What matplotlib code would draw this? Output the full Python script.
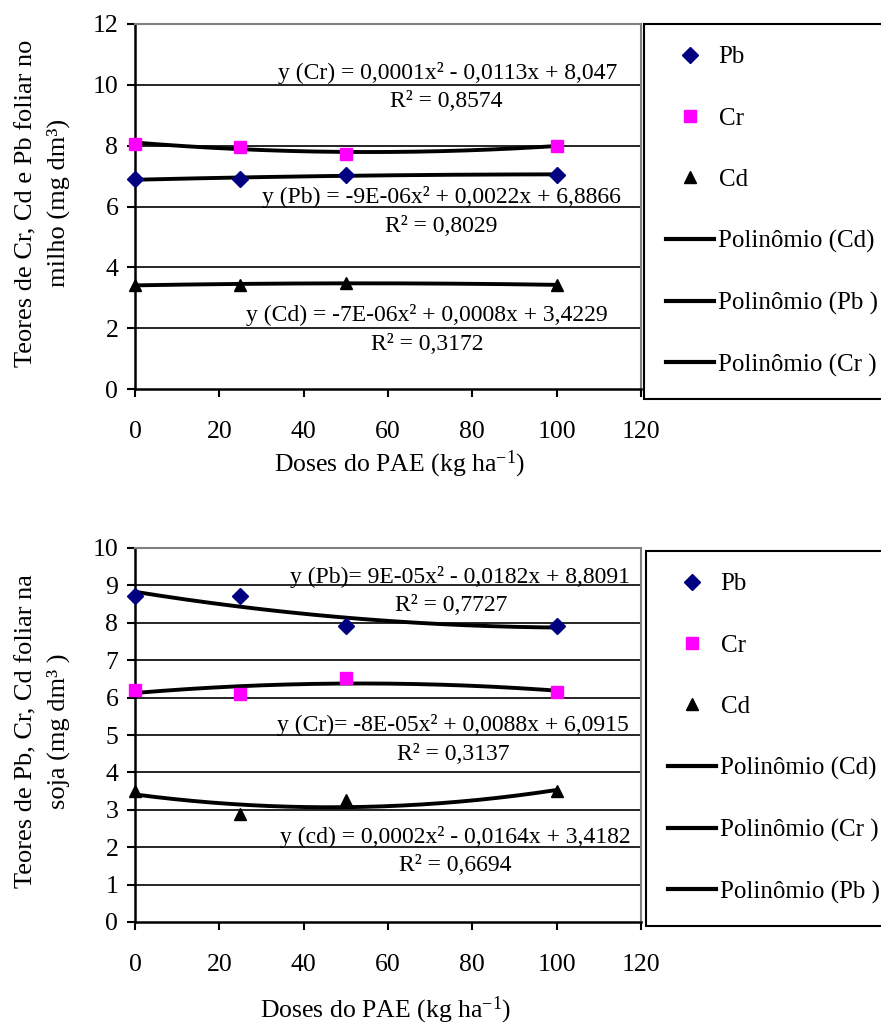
import numpy as np
import matplotlib
matplotlib.use("Agg")
import matplotlib.pyplot as plt
from matplotlib.lines import Line2D

plt.rcParams['font.family'] = ['Liberation Serif', 'DejaVu Serif']
plt.rcParams['mathtext.fontset'] = 'custom'
plt.rcParams['mathtext.rm'] = 'Liberation Serif'
plt.rcParams['mathtext.it'] = 'Liberation Serif:italic'

# doses do PAE (kg/ha)
doses = [0, 25, 50, 100]

# milho
milho_pb = [6.9, 6.9, 7.05, 7.05]
milho_cr = [8.07, 7.97, 7.73, 8.0]
milho_cd = [3.42, 3.42, 3.5, 3.42]

# soja
soja_pb = [8.72, 8.72, 7.92, 7.91]
soja_cr = [6.2, 6.1, 6.53, 6.16]
soja_cd = [3.5, 2.9, 3.25, 3.5]

milho_eq = {
    'Cr': ("y (Cr) = 0,0001x² - 0,0113x + 8,047", "R² = 0,8574", (74.2, 10.4), (73.7, 9.44)),
    'Pb': ("y (Pb) = -9E-06x² + 0,0022x + 6,8866", "R² = 0,8029", (72.7, 6.32), (72.7, 5.33)),
    'Cd': ("y (Cd) = -7E-06x² + 0,0008x + 3,4229", "R² = 0,3172", (69.2, 2.43), (69.4, 1.45)),
}
soja_eq = {
    'Pb': ("y (Pb)= 9E-05x² - 0,0182x + 8,8091", "R² = 0,7727", (77.1, 9.22), (74.9, 8.45)),
    'Cr': ("y (Cr)= -8E-05x² + 0,0088x + 6,0915", "R² = 0,3137", (75.4, 5.27), (75.4, 4.49)),
    'Cd': ("y (cd) = 0,0002x² - 0,0164x + 3,4182", "R² = 0,6694", (75.9, 2.27), (75.9, 1.50)),
}

W, H = 881, 1027
fig = plt.figure(figsize=(W / 100, H / 100), dpi=100)

FS = 18.5
LEGFS = 18
EQFS = 17


def painel(rect, pb, cr, cd, eqs, ymax, ylabel, line_order, leg_anchor, xlab_pos, ylab_pos):
    ax = fig.add_axes(rect)
    ax.set_xlim(0, 120)
    ax.set_ylim(0, ymax)
    step = 2 if ymax == 12 else 1
    ax.set_yticks(np.arange(0, ymax + 0.1, step))
    ax.set_xticks(np.arange(0, 121, 20))
    for v in np.arange(step, ymax, step):
        ax.axhline(v, color='black', lw=1.2, zorder=1)

    for s in ['top', 'right']:
        ax.spines[s].set_color('#808080')
        ax.spines[s].set_linewidth(1.5)
    for s in ['left', 'bottom']:
        ax.spines[s].set_linewidth(1.8)
    ax.tick_params(axis='both', direction='out', length=6, width=1.5, labelsize=FS)
    ax.tick_params(axis='y', pad=6)
    ax.tick_params(axis='x', pad=17)

    xs = np.linspace(0, 100, 200)
    series = {'Pb': pb, 'Cr': cr, 'Cd': cd}
    for nome, ys in series.items():
        coef = np.polyfit(doses, ys, 2)
        ax.plot(xs, np.polyval(coef, xs), color='black', lw=2.8, zorder=3)

    ax.plot(doses, pb, 'D', color='#000080', ms=8, ls='none', zorder=5, clip_on=False)
    ax.plot(doses, cr, 's', color='#FF00FF', ms=8, ls='none', zorder=5, clip_on=False)
    ax.plot(doses, cd, '^', color='black', ms=9, ls='none', zorder=5, clip_on=False)

    for eq, r2, p1, p2 in eqs.values():
        ax.text(p1[0], p1[1], eq, fontsize=EQFS, ha='center', va='center', zorder=6)
        ax.text(p2[0], p2[1], r2, fontsize=EQFS, ha='center', va='center', zorder=6)

    fig.text(ylab_pos[0] / W, 1 - ylab_pos[1] / H, ylabel, fontsize=FS + 0.5, rotation=90,
             ha='center', va='center', linespacing=1.5, multialignment='center')
    fig.text(xlab_pos[0] / W, 1 - xlab_pos[1] / H, 'Doses do PAE (kg ha$^{-1}$)',
             fontsize=FS, ha='center', va='baseline')

    handles = [
        Line2D([], [], marker='D', color='#000080', ms=8, ls='none'),
        Line2D([], [], marker='s', color='#FF00FF', ms=8, ls='none'),
        Line2D([], [], marker='^', color='black', ms=9, ls='none'),
    ] + [Line2D([], [], color='black', lw=3) for _ in line_order]
    labels = ['Pb', 'Cr', 'Cd'] + ['Polinômio (%s)' % n for n in line_order]
    # caixa da legenda passa da borda direita, como no original
    leg = fig.legend(handles, labels, loc='upper left', mode='expand',
                     bbox_to_anchor=(leg_anchor[0], leg_anchor[1] - 0.3, 270 / W, 0.3),
                     bbox_transform=fig.transFigure, fontsize=LEGFS, frameon=True,
                     fancybox=False, edgecolor='black', framealpha=1,
                     borderpad=0.88, labelspacing=1.55, handlelength=1.9,
                     handletextpad=0.2, borderaxespad=0, numpoints=1)
    leg.get_frame().set_linewidth(1.5)
    return ax


painel([135 / W, 1 - 389 / H, 506 / W, 365 / H], milho_pb, milho_cr, milho_cd, milho_eq, 12,
       'Teores de Cr, Cd e Pb foliar no\nmilho (mg dm³)', ['Cd', 'Pb ', 'Cr '],
       (644 / W, 1 - 24 / H), (400, 471), (43, 203))

painel([135 / W, 1 - 922 / H, 506 / W, 374 / H], soja_pb, soja_cr, soja_cd, soja_eq, 10,
       'Teores de Pb, Cr, Cd foliar na\nsoja (mg dm³ )', ['Cd', 'Cr ', 'Pb '],
       (646 / W, 1 - 551 / H), (386, 1017), (43, 731))

fig.savefig('out.png', dpi=100)
